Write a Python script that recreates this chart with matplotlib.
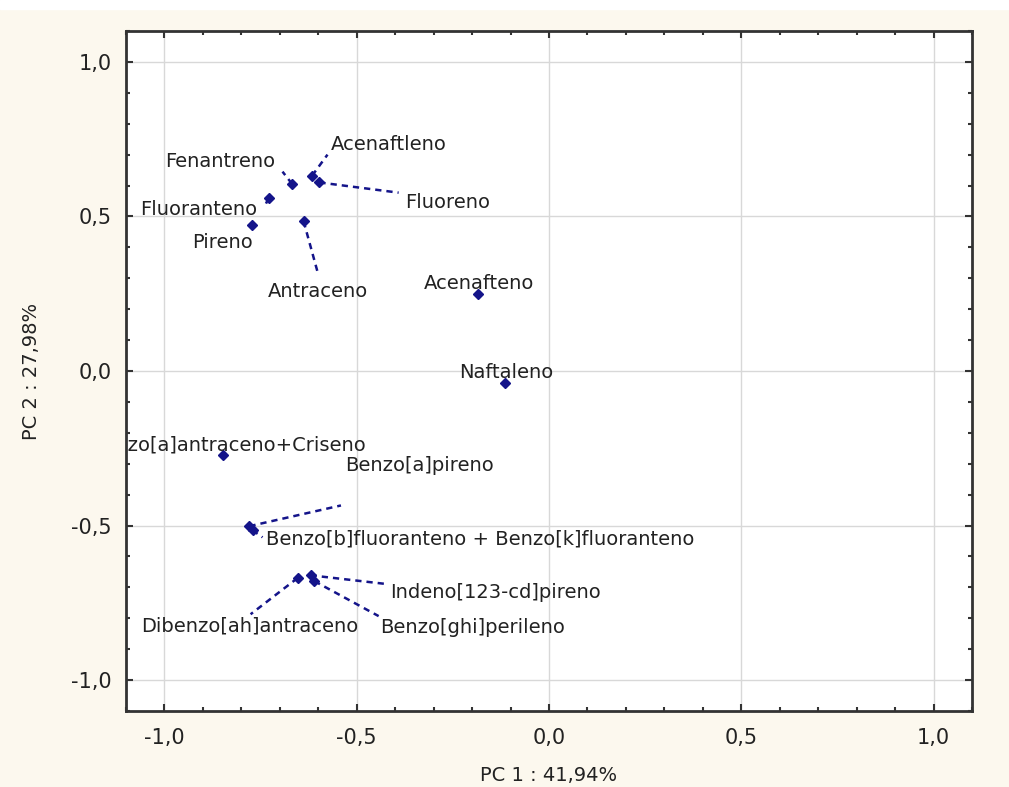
import matplotlib.pyplot as plt
from matplotlib.patches import Rectangle
from matplotlib.ticker import MultipleLocator, FuncFormatter

# cargas PC1 / PC2 de cada HPA
nombres = ["Acenaftleno", "Fluoreno", "Fenantreno", "Fluoranteno", "Pireno",
           "Antraceno", "Acenafteno", "Naftaleno",
           "Benzo[a]antraceno+Criseno", "Benzo[a]pireno",
           "Benzo[b]fluoranteno + Benzo[k]fluoranteno",
           "Indeno[123-cd]pireno", "Benzo[ghi]perileno", "Dibenzo[ah]antraceno"]
pc1 = [-0.616, -0.597, -0.668, -0.729, -0.772, -0.638, -0.185, -0.115,
       -0.849, -0.779, -0.771, -0.620, -0.610, -0.654]
pc2 = [0.632, 0.610, 0.605, 0.560, 0.473, 0.484, 0.250, -0.038,
       -0.273, -0.502, -0.515, -0.661, -0.680, -0.670]

var_pc1 = "41,94"
var_pc2 = "27,98"

# posicion de cada etiqueta (x, y, alineacion) y fin de la linea guia
etiquetas = [(-0.568, 0.732, "left"), (-0.373, 0.545, "left"),
             (-0.997, 0.677, "left"), (-1.062, 0.522, "left"),
             (-0.927, 0.415, "left"), (-0.730, 0.257, "left"),
             (-0.326, 0.283, "left"), (-0.235, -0.005, "left"),
             (-0.477, -0.241, "right"), (-0.529, -0.305, "left"),
             (-0.737, -0.544, "left"), (-0.412, -0.716, "left"),
             (-0.438, -0.829, "left"), (-0.495, -0.826, "right")]
guias = [(-0.576, 0.700), (-0.391, 0.577), (-0.693, 0.645), (-0.740, 0.531),
         None, (-0.600, 0.312), None, None, None, (-0.541, -0.435),
         (-0.745, -0.538), (-0.417, -0.690), (-0.443, -0.793), (-0.776, -0.787)]

azul = "#14148a"
texto = "#222222"

fig = plt.figure(figsize=(10.09, 7.87), dpi=100, facecolor="#fcf8ee")
fig.patches.append(Rectangle((0, 1 - 9 / 787), 1, 9 / 787, transform=fig.transFigure,
                             color="white", zorder=0))
ax = fig.add_axes([126 / 1009, 1 - 711 / 787, 846 / 1009, 680 / 787])
ax.set_facecolor("white")

for i in range(len(nombres)):
    if guias[i] is not None:
        ax.plot([pc1[i], guias[i][0]], [pc2[i], guias[i][1]], color=azul, lw=1.8,
                dashes=(2.5, 2), zorder=2)
ax.plot(pc1, pc2, "D", color=azul, ms=5.5, zorder=3)

for i in range(len(nombres)):
    tx, ty, al = etiquetas[i]
    ax.text(tx, ty, nombres[i], ha=al, va="center", fontsize=14, color=texto,
            family="DejaVu Sans", clip_on=True, zorder=4)

ax.set_xlim(-1.1, 1.1)
ax.set_ylim(-1.1, 1.1)
ax.xaxis.set_major_locator(MultipleLocator(0.5))
ax.yaxis.set_major_locator(MultipleLocator(0.5))
ax.xaxis.set_minor_locator(MultipleLocator(0.1))
ax.yaxis.set_minor_locator(MultipleLocator(0.1))
fmt = FuncFormatter(lambda v, p: ("%.1f" % v).replace(".", ",").replace("-0,0", "0,0"))
ax.xaxis.set_major_formatter(fmt)
ax.yaxis.set_major_formatter(fmt)
ax.grid(True, which="major", color="#d8d8d8", lw=1)
ax.set_axisbelow(True)
ax.tick_params(which="both", direction="in", top=True, right=True, colors="#333333",
               labelcolor=texto, labelsize=15)
ax.tick_params(which="major", length=5, width=1.5)
ax.tick_params(which="minor", length=3, width=1.5)
ax.tick_params(axis="x", pad=12)
ax.tick_params(axis="y", pad=10)
for s in ax.spines.values():
    s.set_linewidth(2)
    s.set_color("#333333")

ax.set_xlabel("PC 1 : " + var_pc1 + "%", fontsize=14, color=texto, labelpad=13)
ax.set_ylabel("PC 2 : " + var_pc2 + "%", fontsize=14, color=texto, labelpad=22)

fig.savefig("out.png", dpi=100, facecolor=fig.get_facecolor())
